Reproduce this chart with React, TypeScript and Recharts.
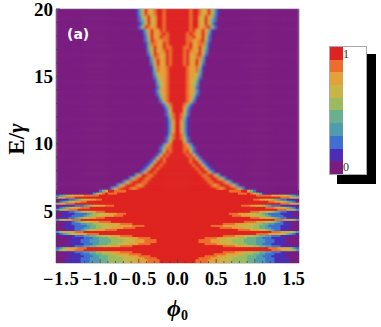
import { Scatter, ScatterChart, XAxis, YAxis } from "recharts"

const levelColors = ["#7A1C80", "#4B2EB5", "#3F6FD0", "#4F9BB0", "#6BB08E", "#9CBB5E", "#C8B548", "#E4A03A", "#EC6E2D", "#DF2320"]

const xTicks = [-1.5, -1, -0.5, 0, 0.5, 1, 1.5]
const xMinorTicks = [-1.4, -1.3, -1.2, -1.1, -0.9, -0.8, -0.7, -0.6, -0.4, -0.3, -0.2, -0.1, 0.1, 0.2, 0.3, 0.4, 0.6, 0.7, 0.8, 0.9, 1.1, 1.2, 1.3, 1.4]
const yTicks = [5, 10, 15, 20]
const yMinorTicks = [2, 3, 4, 6, 7, 8, 9, 11, 12, 13, 14, 16, 17, 18, 19]

// contour levels, phi >= 0 only (the plot is symmetric).
// "9*25" = level 9 for 25 columns, anything missing at the end of a row is level 0
const lowRows = [
  "9*6 8*4 7*4 6*4 5*5 444 333 222 1*5",
  "9*6 8*4 7*4 6*4 5*5 444 333 222 1*5",
  "9*7 8*4 7*3 6*4 5*5 444 333 222 1*5",
  "9*9 8*4 777 6*4 555 444 33 222 1*4",
  "9*12 8*4 7*4 66 555 44 33 222 1*4",
  "9*15 8*4 777 666 55 44 33 222 1*4",
  "9*31 888 777 653",
  "9*30 888 777 6532",
  "9*15 8*4 777 666 55 44 33 222 1*4",
  "9*9 8*4 777 6*4 555 444 33 222 1*4",
  "9*7 8*4 777 6*4 5*4 4*4 333 222 1*4",
  "9*7 8*4 777 6*4 5*4 4*4 333 222 1*4",
  "9*9 8*4 777 6*4 555 444 33 222 1*4",
  "9*15 8*4 777 666 55 44 33 222 1*4",
  "9*26 8*4 777 66 5 4 3 2 1",
  "9*31 888 777 653",
  "9*20 8*4 777 66 5 4 3 22 111",
  "9*14 8*4 7*4 666 55 44 33 222 111",
  "9*11 8*4 7*5 6*5 55 44 3 2*4 1*4",
  "9*15 8*4 7*4 666 55 44 33 222 11",
  "9*22 8*4 777 66 5 4 3 2 111",
  "9*32 888 77 6 5 3",
  "9*24 888 77 66 5 4 3 22 111",
  "9*18 888 777 666 55 4 3 2*4 111",
  "9*17 888 777 666 55 4 3 2*4 1*4",
  "9*24 888 77 66 5 4 3 22 111",
  "9*33 888 77 5 3",
  "9*29 888 77 6 5 4 3 2 1",
  "9*21 888 77 66 5 4 3 222 111",
  "9*34 888 77 5",
  "9*30 88 77 6 5 4 3 2",
  "9*25 88 77 66 5 4 3 22 111",
  "9*34 888 77 5",
  "9*26 8*5 777 66 5 4 3 2",
  "9*20 888 9 8 7 5 3 1",
  "9*17 8*4 99 7 4 2",
]

const highRows = [
  "9*13 878 999 8631",
  "9*11 878 999 8631",
  "9*10 88 999 8631",
  "9*9 88 99 8631",
  "9*8 88 99 741",
  "9*7 8 99 731",
  "9*6 8 99 621",
  "9*5 8 99 621",
  "9*4 8 99 621",
  "9999 8 9 62",
  "999 8 9 62",
  "998962",
  "998852",
  "998731",
  "9962",
  "9852",
  "9841",
  "9731",
  "9731",
  "9731",
  "9731",
  "9841",
  "9852",
  "9962",
  "99731",
  "99852",
  "9998 62",
  "9998 741",
  "9998 752",
  "9998 7731",
  "9998 752",
  "9998 763",
  "9998 7641",
  "9998 7752",
  "9998 77 63",
  "9998 7784 1",
  "9998 7785 1",
  "998 9 77 9 62",
  "998 9 77 9 73",
  "998 9 76 88 41",
  "998 9 77 89 62",
  "998 9 8769 63",
  "99 88 9 77 9 741",
  "999 8 9 77 88 41",
  "999 88 77 89 52",
  "999 88 9 77 9 62",
  "999 898 77 9 731",
  "9999 89 77 9 741",
  "9999 89 9 77 8 952",
  "9999 89 9 76 9 631",
  "9999 89 9 76 9 742",
  "9999 89 9 76 9 752",
  "9999 89 9 867 9 631",
  "9999 89 9 867 9 631",
]

const columnCount = 40
const phiStep = 1.57 / columnCount
const lowStep = 0.15
const highStep = 0.25
const lowStart = 1.15
const highStart = 6.55

const expandRow = (row: string) =>
  row
    .split(" ")
    .map((t) => (t.includes("*") ? t[0].repeat(Number(t.slice(2))) : t))
    .join("")
    .padEnd(columnCount, "0")

type Cell = { phi: number; energy: number; level: number; span: number }
const buildCells = (rows: string[], start: number, step: number) => {
  const out: Cell[] = []
  rows.forEach((row, r) => {
    const levels = expandRow(row)
    for (let c = 0; c < columnCount; c++) {
      const phi = (c + 0.5) * phiStep
      const energy = start + (r + 0.5) * step
      const level = Number(levels[c])
      out.push({ phi, energy, level, span: step })
      out.push({ phi: -phi, energy, level, span: step })
    }
  })
  return out
}
const lowCells = buildCells(lowRows, lowStart, lowStep)
const highCells = buildCells(highRows, highStart, highStep)
const allCells = [...lowCells, ...highCells]

const plotLeft = 56
const plotTop = 9
const plotWidth = 243
const plotHeight = 254
const xDomain = [-1.57, 1.57]
const yDomain = [1.15, 20]
const cellWidth = (phiStep * plotWidth) / (xDomain[1] - xDomain[0])
const pxPerEnergy = plotHeight / (yDomain[1] - yDomain[0])

const HeatCell = (props: any) => {
  const { cx, cy, payload } = props
  const h = payload.span * pxPerEnergy
  return (
    <rect
      x={cx - cellWidth / 2 - 0.3}
      y={cy - h / 2 - 0.3}
      width={cellWidth + 0.6}
      height={h + 0.6}
      fill={levelColors[payload.level]}
    />
  )
}

const serif = "'Liberation Serif', serif"
const frame = "#a0a0a0"
const tickInk = "#444"

const formatX = (v: number) => (v < 0 ? "\u2212" + Math.abs(v).toFixed(1) : v.toFixed(1))

// frame ticks point inwards, Mathematica style
const BottomTick = ({ x, y, payload }: any) => {
  const major = xTicks.includes(payload.value)
  return (
    <g>
      <line x1={x} x2={x} y1={y} y2={y - (major ? 4 : 2)} stroke={tickInk} strokeWidth={0.8} />
      {major && (
        <text x={x} y={y + 22} textAnchor="middle" fontFamily={serif} fontWeight={700} fontSize={18} letterSpacing={payload.value < 0 ? 1 : 0}>
          {formatX(payload.value)}
        </text>
      )}
    </g>
  )
}
const TopTick = ({ x, y, payload }: any) => (
  <line x1={x} x2={x} y1={y} y2={y + (xTicks.includes(payload.value) ? 4 : 2)} stroke={tickInk} strokeWidth={0.8} />
)
const LeftTick = ({ x, y, payload }: any) => {
  const major = yTicks.includes(payload.value)
  return (
    <g>
      <line x1={x} x2={x + (major ? 4 : 2)} y1={y} y2={y} stroke={tickInk} strokeWidth={0.8} />
      {major && (
        <text x={x - 3} y={y + 6.5} textAnchor="end" fontFamily={serif} fontWeight={700} fontSize={19}>
          {payload.value}
        </text>
      )}
    </g>
  )
}
const RightTick = ({ x, y, payload }: any) => (
  <line x1={x} x2={x - (yTicks.includes(payload.value) ? 4 : 2)} y1={y} y2={y} stroke={tickInk} strokeWidth={0.8} />
)

const allX = [...xTicks, ...xMinorTicks]
const allY = [...yTicks, ...yMinorTicks]

function ColorKey() {
  return (
    <div style={{ position: "absolute", left: 329, top: 46 }}>
      <div style={{ position: "absolute", left: 8, top: 8, width: 39, height: 130, background: "#000" }} />
      <div style={{ position: "absolute", left: 0, top: 0, width: 38, height: 129, background: "#fff", border: "1px solid #aaa", boxSizing: "border-box" }} />
      <div style={{ position: "absolute", left: 1, top: 1, width: 13, height: 127, display: "flex", flexDirection: "column-reverse" }}>
        {levelColors.map((c) => (
          <div key={c} style={{ flex: 1, background: c }} />
        ))}
      </div>
      <div style={{ position: "absolute", left: 14, top: 1, fontFamily: serif, fontSize: 12, color: "#333" }}>1</div>
      <div style={{ position: "absolute", left: 14, top: 114, fontFamily: serif, fontSize: 12, color: "#333" }}>0</div>
    </div>
  )
}

export default function App() {
  return (
    <div style={{ position: "absolute", left: 0, top: 0, width: 381, height: 327, overflow: "hidden" }}>
      <style>{`.heat-wide { filter: url(#softWide); } .heat-fine { filter: url(#softFine); }`}</style>
      <ScatterChart
        width={381}
        height={327}
        margin={{ top: plotTop - 1, left: plotLeft - 1, right: 381 - plotLeft - plotWidth - 1, bottom: 327 - plotTop - plotHeight - 1 }}
      >
        <defs>
          <filter id="softWide" filterUnits="userSpaceOnUse" x={plotLeft} y={plotTop} width={plotWidth} height={plotHeight}>
            <feGaussianBlur stdDeviation="1.3" edgeMode="duplicate" />
          </filter>
          <filter id="softFine" filterUnits="userSpaceOnUse" x={plotLeft} y={plotTop} width={plotWidth} height={plotHeight}>
            <feGaussianBlur stdDeviation="0.7" edgeMode="duplicate" />
          </filter>
        </defs>
        <XAxis xAxisId="x" type="number" dataKey="phi" domain={xDomain} ticks={allX} interval={0} height={1} stroke={frame} tickSize={0} tickMargin={0} tickLine={false} tick={<BottomTick />} />
        <XAxis xAxisId="top" orientation="top" type="number" domain={xDomain} ticks={allX} interval={0} height={1} stroke={frame} tickSize={0} tickMargin={0} tickLine={false} tick={<TopTick />} />
        <YAxis yAxisId="y" type="number" dataKey="energy" domain={yDomain} ticks={allY} interval={0} width={1} stroke={frame} tickSize={0} tickMargin={0} tickLine={false} tick={<LeftTick />} />
        <YAxis yAxisId="right" orientation="right" type="number" domain={yDomain} ticks={allY} interval={0} width={1} stroke={frame} tickSize={0} tickMargin={0} tickLine={false} tick={<RightTick />} />
        <Scatter className="heat-wide" xAxisId="x" yAxisId="y" data={allCells} shape={HeatCell} isAnimationActive={false} />
        <Scatter className="heat-fine" xAxisId="x" yAxisId="y" data={lowCells} shape={HeatCell} isAnimationActive={false} />
      </ScatterChart>
      <div style={{ position: "absolute", left: 67, top: 26, fontFamily: "'DejaVu Sans', sans-serif", fontWeight: 700, fontSize: 14, color: "#fff" }}>(a)</div>
      <svg width={381} height={327} style={{ position: "absolute", left: 0, top: 0, pointerEvents: "none" }}>
        <text transform="translate(24,139) rotate(-90)" textAnchor="middle" fontFamily={serif} fontWeight={700} fontSize={23}>
          E/<tspan fontStyle="italic">γ</tspan>
        </text>
        <text x={167} y={316} fontFamily={serif} fontWeight={700} fontSize={24}>
          <tspan fontStyle="italic">ϕ</tspan>
          <tspan fontSize={14} dy={4}>0</tspan>
        </text>
      </svg>
      <ColorKey />
    </div>
  )
}
